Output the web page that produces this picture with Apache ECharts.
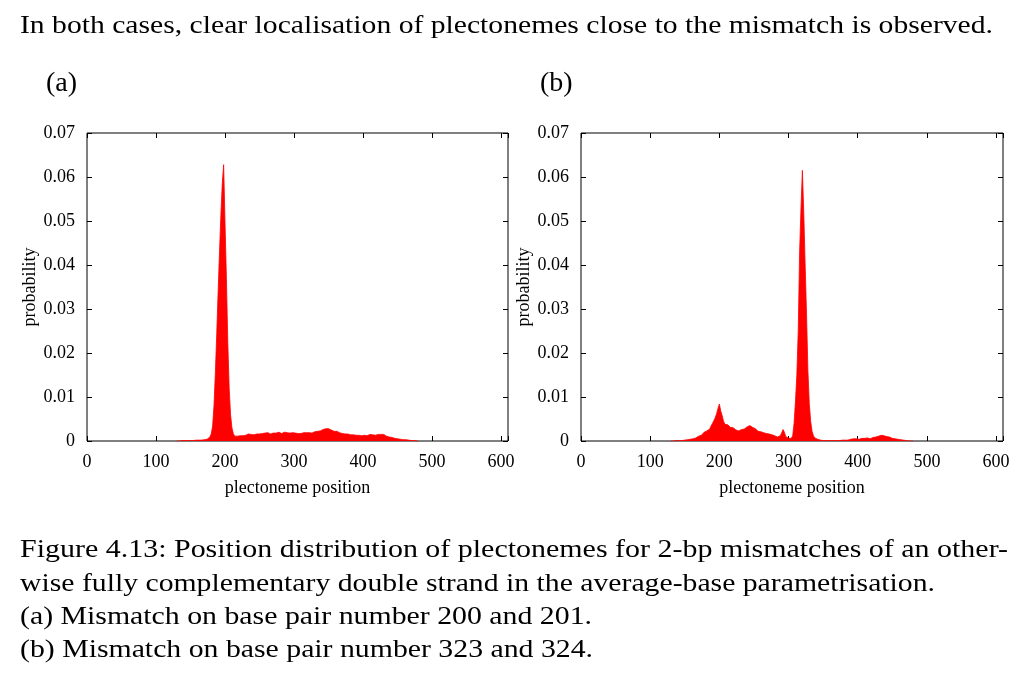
<!DOCTYPE html>
<html>
<head>
<meta charset="utf-8">
<script src="https://cdn.jsdelivr.net/npm/echarts@6/dist/echarts.min.js"></script>
<style>
  html, body { margin: 0; padding: 0; background: #fff; }
  #chart { width: 1024px; height: 679px; }
</style>
</head>
<body>
<div id="chart"></div>
<script>
var chart = echarts.init(document.getElementById('chart'));

// histogram bins: every 2 bp starting at binStart
const binStart = 130;
const binStep = 2;

// (a) mismatch at 200/201
const probA = [
  0.0000, 0.0001, 0.0000, 0.0001, 0.0001, 0.0001, 0.0001, 0.0000, 0.0001, 0.0001,
  0.0001, 0.0002, 0.0001, 0.0002, 0.0002, 0.0002, 0.0002, 0.0003, 0.0002, 0.0003,
  0.0003, 0.0004, 0.0004, 0.0006, 0.0009, 0.0016, 0.0034, 0.0080, 0.0155, 0.0245,
  0.0340, 0.0430, 0.0515, 0.0585, 0.0628, 0.0495, 0.0370, 0.0225, 0.0120, 0.0060,
  0.0030, 0.0017, 0.0011, 0.0009, 0.0011, 0.0010, 0.0012, 0.0014, 0.0012, 0.0015,
  0.0013, 0.0015, 0.0016, 0.0013, 0.0015, 0.0016, 0.0014, 0.0015, 0.0016, 0.0014,
  0.0016, 0.0015, 0.0017, 0.0015, 0.0018, 0.0016, 0.0019, 0.0017, 0.0016, 0.0019,
  0.0018, 0.0020, 0.0018, 0.0017, 0.0020, 0.0019, 0.0017, 0.0019, 0.0020, 0.0018,
  0.0019, 0.0020, 0.0018, 0.0017, 0.0019, 0.0020, 0.0018, 0.0019, 0.0017, 0.0019,
  0.0017, 0.0018, 0.0019, 0.0017, 0.0019, 0.0018, 0.0019, 0.0020, 0.0018, 0.0020,
  0.0021, 0.0019, 0.0022, 0.0021, 0.0023, 0.0024, 0.0026, 0.0027, 0.0028, 0.0026,
  0.0028, 0.0025, 0.0025, 0.0023, 0.0022, 0.0020, 0.0022, 0.0019, 0.0019, 0.0020,
  0.0017, 0.0019, 0.0016, 0.0018, 0.0016, 0.0017, 0.0014, 0.0016, 0.0014, 0.0015,
  0.0013, 0.0015, 0.0013, 0.0014, 0.0012, 0.0015, 0.0013, 0.0014, 0.0012, 0.0014,
  0.0015, 0.0013, 0.0014, 0.0015, 0.0013, 0.0016, 0.0015, 0.0017, 0.0015, 0.0017,
  0.0015, 0.0013, 0.0011, 0.0010, 0.0009, 0.0008, 0.0008, 0.0007, 0.0006, 0.0006,
  0.0005, 0.0005, 0.0004, 0.0004, 0.0003, 0.0003, 0.0003, 0.0002, 0.0002, 0.0002,
  0.0001, 0.0001, 0.0001, 0.0001, 0.0000, 0.0000
];

// (b) mismatch at 323/324
const probB = [
  0.0000, 0.0000, 0.0000, 0.0000, 0.0001, 0.0001, 0.0001, 0.0001, 0.0001, 0.0002,
  0.0002, 0.0002, 0.0003, 0.0003, 0.0004, 0.0004, 0.0005, 0.0006, 0.0007, 0.0009,
  0.0011, 0.0015, 0.0013, 0.0017, 0.0020, 0.0018, 0.0023, 0.0022, 0.0027, 0.0034,
  0.0040, 0.0046, 0.0053, 0.0062, 0.0074, 0.0084, 0.0068, 0.0058, 0.0045, 0.0038,
  0.0034, 0.0037, 0.0033, 0.0031, 0.0033, 0.0030, 0.0027, 0.0025, 0.0024, 0.0023,
  0.0025, 0.0026, 0.0028, 0.0027, 0.0030, 0.0032, 0.0034, 0.0035, 0.0033, 0.0031,
  0.0027, 0.0028, 0.0025, 0.0022, 0.0020, 0.0021, 0.0018, 0.0019, 0.0016, 0.0017,
  0.0015, 0.0016, 0.0013, 0.0014, 0.0011, 0.0012, 0.0010, 0.0009, 0.0010, 0.0012,
  0.0018, 0.0026, 0.0020, 0.0010, 0.0007, 0.0006, 0.0005, 0.0006, 0.0012, 0.0040,
  0.0090, 0.0150, 0.0250, 0.0430, 0.0530, 0.0615, 0.0520, 0.0400, 0.0290, 0.0160,
  0.0085, 0.0045, 0.0022, 0.0012, 0.0007, 0.0005, 0.0004, 0.0003, 0.0002, 0.0002,
  0.0001, 0.0001, 0.0001, 0.0001, 0.0001, 0.0001, 0.0001, 0.0001, 0.0001, 0.0001,
  0.0001, 0.0002, 0.0001, 0.0002, 0.0002, 0.0002, 0.0002, 0.0003, 0.0002, 0.0003,
  0.0004, 0.0003, 0.0005, 0.0004, 0.0005, 0.0006, 0.0004, 0.0005, 0.0006, 0.0005,
  0.0006, 0.0005, 0.0007, 0.0006, 0.0005, 0.0007, 0.0008, 0.0007, 0.0009, 0.0010,
  0.0011, 0.0012, 0.0013, 0.0014, 0.0012, 0.0011, 0.0010, 0.0008, 0.0009, 0.0007,
  0.0006, 0.0006, 0.0005, 0.0004, 0.0004, 0.0003, 0.0003, 0.0002, 0.0002, 0.0001,
  0.0001, 0.0001, 0.0000, 0.0000, 0.0000, 0.0000
];

const xTicks = [0, 100, 200, 300, 400, 500, 600];
const panelLabels = ['(a)', '(b)'];
const xName = 'plectoneme position';
const yName = 'probability';

const introText = 'In both cases, clear localisation of plectonemes close to the mismatch is observed.';
const captionLines = [
  'Figure 4.13: Position distribution of plectonemes for 2-bp mismatches of an other-',
  'wise fully complementary double strand in the average-base parametrisation.',
  '(a) Mismatch on base pair number 200 and 201.',
  '(b) Mismatch on base pair number 323 and 324.'
];

function toPairs(values) {
  return values.map(function (v, i) { return [binStart + i * binStep, v]; });
}

// stretch serif text horizontally so it fills the same width as the TeX original
var measureCtx = document.createElement('canvas').getContext('2d');
function fitScale(text, font, width) {
  measureCtx.font = font;
  return width / measureCtx.measureText(text).width;
}

var serif = '"Liberation Serif", "Times New Roman", serif';
var bodyFont = '25px ' + serif;

function textEl(text, x, y, font, width) {
  var el = {
    type: 'text',
    x: x,
    y: y,
    style: {
      text: text,
      font: font,
      fill: '#000',
      textAlign: 'left',
      align: 'left',
      textVerticalAlign: 'middle',
      verticalAlign: 'middle'
    }
  };
  if (width) el.scaleX = fitScale(text, font, width);
  return el;
}

var tickFont = { fontFamily: serif, fontSize: 18, color: '#000' };

function xAxisFor(gridIndex, bottom) {
  return {
    type: 'value',
    gridIndex: gridIndex,
    position: bottom ? 'bottom' : 'top',
    min: 0,
    max: 610,
    interval: 100,
    name: bottom ? xName : '',
    nameLocation: 'middle',
    nameGap: 38,
    nameTextStyle: { fontFamily: serif, fontSize: 18, color: '#000' },
    axisLine: { show: false, onZero: false },
    axisTick: { show: true, inside: true, length: 5, lineStyle: { color: '#000', width: 1 } },
    axisLabel: {
      show: bottom,
      margin: 12,
      fontFamily: serif, fontSize: 18, color: '#000',
      formatter: function (v) { return xTicks.indexOf(v) >= 0 ? String(v) : ''; }
    },
    splitLine: { show: false }
  };
}

function yAxisFor(gridIndex, left) {
  return {
    type: 'value',
    gridIndex: gridIndex,
    position: left ? 'left' : 'right',
    min: 0,
    max: 0.07,
    interval: 0.01,
    name: left ? yName : '',
    nameLocation: 'middle',
    nameGap: 48,
    nameTextStyle: { fontFamily: serif, fontSize: 18, color: '#000' },
    axisLine: { show: false, onZero: false },
    axisTick: { show: true, inside: true, length: 5, lineStyle: { color: '#000', width: 1 } },
    axisLabel: Object.assign({ show: left, margin: 12 }, tickFont),
    splitLine: { show: false }
  };
}

function histSeries(values, idx) {
  return {
    type: 'line',
    xAxisIndex: idx * 2,
    yAxisIndex: idx * 2,
    data: toPairs(values),
    showSymbol: false,
    symbol: 'none',
    sampling: null,
    lineStyle: { color: '#ff0000', width: 0.8 },
    areaStyle: { color: '#ff0000', opacity: 1 },
    itemStyle: { color: '#ff0000' },
    z: 1
  };
}

var gridStyle = { show: true, borderColor: '#000', borderWidth: 1, backgroundColor: 'transparent' };

option = {
  animation: false,
  backgroundColor: '#fff',
  grid: [
    Object.assign({ left: 87, top: 133, width: 421, height: 308 }, gridStyle),
    Object.assign({ left: 581, top: 133, width: 422, height: 308 }, gridStyle)
  ],
  xAxis: [xAxisFor(0, true), xAxisFor(0, false), xAxisFor(1, true), xAxisFor(1, false)],
  yAxis: [yAxisFor(0, true), yAxisFor(0, false), yAxisFor(1, true), yAxisFor(1, false)],
  series: [histSeries(probA, 0), histSeries(probB, 1)],
  graphic: [
    textEl(introText, 20, 26, bodyFont, 973),
    textEl(panelLabels[0], 46, 84, '28px ' + serif),
    textEl(panelLabels[1], 540, 84, '28px ' + serif),
    textEl(captionLines[0], 20, 550, bodyFont, 988),
    textEl(captionLines[1], 20, 584, bodyFont, 915),
    textEl(captionLines[2], 20, 617, bodyFont, 572),
    textEl(captionLines[3], 20, 650, bodyFont, 573)
  ]
};

option && chart.setOption(option);
</script>
</body>
</html>
